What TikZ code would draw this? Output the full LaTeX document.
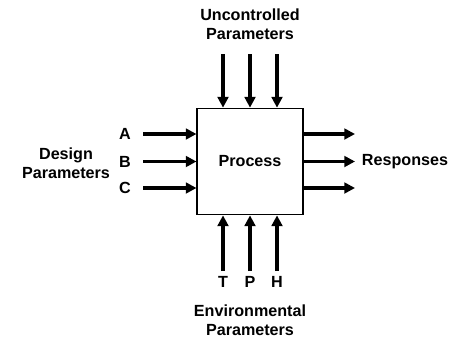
\documentclass[tikz,border=0pt]{standalone}
\usepackage{fontspec}
\setmainfont{Liberation Sans}
\usepackage{tikz}
\usetikzlibrary{arrows.meta}

\begin{document}
\begin{tikzpicture}[x=0.75pt,y=0.75pt,yscale=-1,xscale=1,
  font=\fontsize{12.1}{14}\selectfont\bfseries,
  inarrow/.style={line width=2.3pt,-{Triangle[length=8pt,width=8pt]}},
  lbl/.style={inner sep=0.75pt,align=center}]
\useasboundingbox (0,0) rectangle (449,340);

%Shape: Rectangle [id:process]
\node [draw,line width=0.8pt,minimum width=79.5pt,minimum height=80pt,inner sep=0pt] (process) at (250,161.5) {Process};

% Text Node
\node [lbl] (uncontrolled) at (250,24) {Uncontrolled\\Parameters};
% Text Node
\node [lbl] (design) at (66,163) {Design\\Parameters};
% Text Node
\node [lbl] (responses) at (405,161.5) {Responses};
% Text Node
\node [lbl] (environmental) at (250,320) {Environmental\\Parameters};

% Text Node
\node [lbl] (labA) at (125,134) {A};
\node [lbl] (labB) at (125,161.5) {B};
\node [lbl] (labC) at (125,188) {C};
% Text Node
\node [lbl] (labT) at (223,282) {T};
\node [lbl] (labP) at (250,282) {P};
\node [lbl] (labH) at (277,282) {H};

%Straight Lines: uncontrolled inputs
\coordinate (u1) at (223,54);
\coordinate (u2) at (250,54);
\coordinate (u3) at (277,54);
\draw [inarrow] (u1) -- (u1 |- process.north);
\draw [inarrow] (u2) -- (u2 |- process.north);
\draw [inarrow] (u3) -- (u3 |- process.north);

%Straight Lines: design inputs
\coordinate (d1) at (143,134);
\coordinate (d2) at (143,161.5);
\coordinate (d3) at (143,188);
\draw [inarrow] (d1) -- (d1 -| process.west);
\draw [inarrow] (d2) -- (d2 -| process.west);
\draw [inarrow] (d3) -- (d3 -| process.west);

%Straight Lines: responses
\coordinate (r1) at (355,134);
\coordinate (r2) at (355,161.5);
\coordinate (r3) at (355,188);
\draw [inarrow] (r1 -| process.east) -- (r1);
\draw [inarrow] (r2 -| process.east) -- (r2);
\draw [inarrow] (r3 -| process.east) -- (r3);

%Straight Lines: environmental inputs
\draw [inarrow] (labT.north) ++(0,-4) coordinate (e1) -- (e1 |- process.south);
\draw [inarrow] (labP.north) ++(0,-4) coordinate (e2) -- (e2 |- process.south);
\draw [inarrow] (labH.north) ++(0,-4) coordinate (e3) -- (e3 |- process.south);

\end{tikzpicture}
\end{document}
